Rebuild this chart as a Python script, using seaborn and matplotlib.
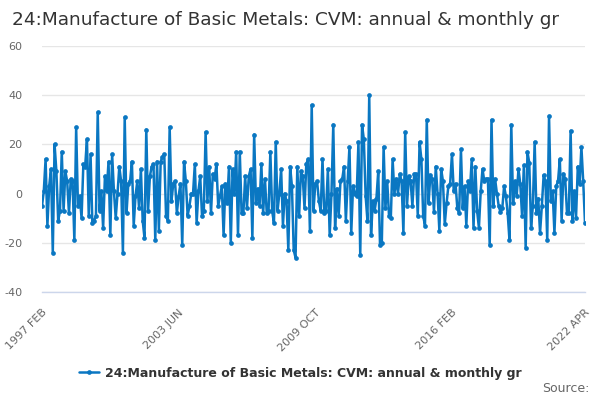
import matplotlib
matplotlib.use("Agg")
import matplotlib.pyplot as plt
import seaborn as sns
import pandas as pd
import numpy as np

title = "24:Manufacture of Basic Metals: CVM: annual & monthly gr"
series_name = "24:Manufacture of Basic Metals: CVM: annual & monthly gr"

seg1 = [-5, 1, 14, -13, 3, 10, -24, 20, 9, -11, -7, 17, -7, 9, 5, -8, 6, 5, -19, 27,
        -5, -1, -10, 12, 11, 22, -9, 16, -12, -11, -9, 33, -7]
seg2 = [1, -14, 7, 1, 13, -17, 16, 1, -10, 0, 11, 5, -24, 31, -8, 4, 5, 13, -13, -1,
        5, -6, 10, -11, -18, 26, -7, 7, 11, 12, -19, 13]
seg3 = [-15, 13, 15, 16, -9, -11, 27, -3, 4, 5, -8, -1, 4, -21, 13, 5, -9, -5, 0, 0,
        12, -12, 1, 7, -9, -7, 25, -3, 11, -8, 8, 6, 12, -5, -1, 3]
seg4 = [-17, 4, -4, 11, -20, 10, 0, 17, -17, 17, -8, -8, 7, -6, 7, 10, -18, 24, -4, 2,
        -5, 12, -8, 6, -8, -7, 17, -7, -12, 21]
seg5 = [-7, 0, 10, -13, 0, -3, -23, 11, 3, -23, -26, 11, -9, 9, 7, -6, 12, 14, -15, 36,
        -7, 4, 5, -3, -7, 14, -8, -7, 10, -17, 0, 28, -14]
seg6 = [2, -9, 5, 6, 11, -11, 5, 19, -16, 3, 0, -1, 21, -25, 28, 22, -1, -11, 40, -17,
        -3, -7, -2, 9, -21, -20, 19, -6, 5, -9, -10, 14, 0, 6, 0, 8]
seg7 = [5, -16, 25, -5, 7, 5, -5, 8, 8, -9, 21, 14, -9, -13, 30, -4, 7.5, 6, -7.5, 11,
        0, -15, 10, 5, -12.5, -4, 3, 4, 16, 1, 4, -6, -8, 18]
seg8 = [-6, 3, -13, 5, 1, 14, -14, 11, -7, -14, 1, 10, 5, 6, 6, -21, 30, -5, 6, 0,
        -5, -7.5, -6, 3, -1, -8, -19, 28, -4, 5, -1, 10]
seg9 = [4, -9, 11.5, -22, 17, 12.5, -14, -5, 21, -8, -2, -16, -5, 7.5, 5, -19, 31.5, -3, 1, -16,
        3, 5, 14, -11, 8, 6, -8, -8, 25.5, -11, 1, -10, 11, 4, 19, 5, -12]

values = seg1 + seg2 + seg3 + seg4 + seg5 + seg6 + seg7 + seg8 + seg9
dates = pd.date_range("1997-02-01", periods=len(values), freq="MS")
date_labels = [d.strftime("%Y %b").upper() for d in dates]

y_ticks = [-40, -20, 0, 20, 40, 60]

df = pd.DataFrame({"idx": np.arange(len(values)), "value": values})

sns.set_theme(style="white")
plt.rcParams['font.family'] = ['DejaVu Sans']

fig = plt.figure(figsize=(6, 4), dpi=100)
ax = fig.add_axes([0.07, 0.27, 0.905, 0.615])

line_color = "#0a77c2"
sns.lineplot(data=df, x="idx", y="value", ax=ax, color=line_color, linewidth=1.8,
             marker="o", markersize=3.4, markeredgewidth=0, label=series_name)

ax.set_ylim(-40, 60)
ax.set_xlim(0, len(values) - 1)
ax.set_yticks(y_ticks)
ax.set_yticklabels([str(v) for v in y_ticks], color="#666666", fontsize=8)
ax.yaxis.grid(True, color="#e6e6e6", linewidth=1)
ax.set_axisbelow(True)
ax.tick_params(axis="y", length=0, pad=14)

n = len(values)
minor = list(range(0, n, 19)) + [n - 1]
major = [0, 76, 152, 228, n - 1]
ax.set_xticks(minor)
ax.set_xticklabels([date_labels[i] if i in major else "" for i in minor],
                   rotation=45, ha="right", rotation_mode="anchor",
                   color="#666666", fontsize=8)
ax.tick_params(axis="x", length=8, width=1, color="#ccd6eb", direction="out", pad=3)

for s in ["top", "right", "left"]:
    ax.spines[s].set_visible(False)
ax.spines["bottom"].set_color("#ccd6eb")
ax.spines["bottom"].set_linewidth(1)
ax.set_xlabel("")
ax.set_ylabel("")

fig.text(0.02, 0.95, title, fontsize=13.3, color="#333333", ha="left", va="center")

leg = ax.legend(loc="center", bbox_to_anchor=(0.5, 0.0675), bbox_transform=fig.transFigure,
                frameon=False, handlelength=1.6, handletextpad=0.5,
                prop={"weight": "bold", "size": 9})
for t in leg.get_texts():
    t.set_color("#333333")

fig.text(0.983, 0.03, "Source:", fontsize=9, color="#666666", ha="right", va="center")

fig.savefig("out.png", dpi=100)
